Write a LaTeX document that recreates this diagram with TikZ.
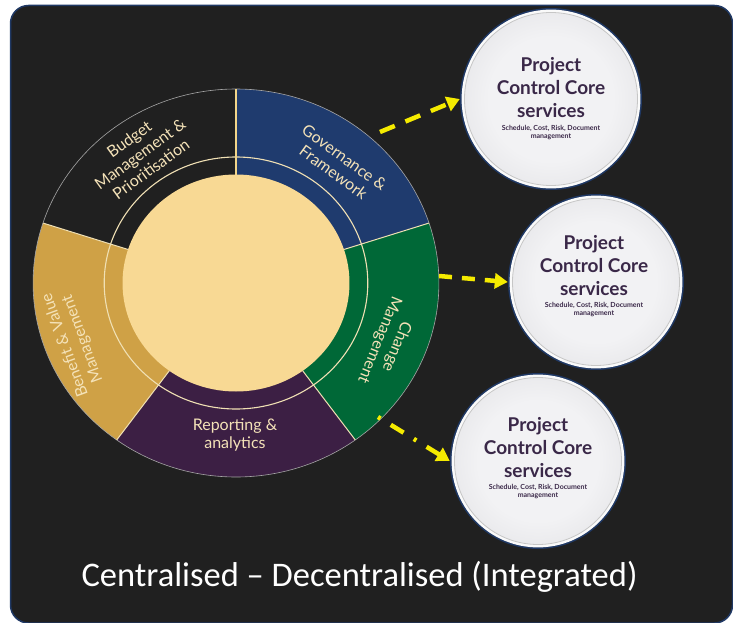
\documentclass[tikz,border=0pt]{standalone}
\usepackage{fontspec}
\setmainfont{Lato}
\newfontfamily\calib{Carlito}
\usetikzlibrary{arrows.meta,calc}
\definecolor{bgdark}{RGB}{32,32,32}
\definecolor{navyline}{RGB}{31,56,100}
\definecolor{segnavy}{RGB}{31,59,110}
\definecolor{seggreen}{RGB}{0,104,55}
\definecolor{segpurple}{RGB}{60,31,68}
\definecolor{seggold}{RGB}{207,161,70}
\definecolor{corefill}{RGB}{248,217,148}
\definecolor{creamtext}{RGB}{244,226,184}
\definecolor{sepline}{RGB}{240,224,180}
\definecolor{topsep}{RGB}{242,213,138}
\definecolor{arrowyellow}{RGB}{245,235,0}
\definecolor{disctext}{RGB}{58,40,72}
\definecolor{discin}{RGB}{242,242,244}
\definecolor{discout}{RGB}{212,212,216}
\pgfdeclareradialshading{discshade}{\pgfpoint{0bp}{0bp}}{color(0bp)=(discin); color(18bp)=(discin); color(46bp)=(discout); color(50bp)=(discout)}
\begin{document}
\begin{tikzpicture}[x=1pt,y=-1pt,
  seglabel/.style={text=creamtext, font=\fontsize{16}{18.5}\selectfont, align=center, inner sep=0pt},
  flow/.style={draw=arrowyellow, line width=4.5pt, -{Triangle[length=13pt,width=15pt]}},
  disc/.style={circle, minimum size=#1, inner sep=0pt, fill=navyline, path picture={
      \fill[white!96!gray] (path picture bounding box.center) circle[radius=0.5*#1-1.6pt];
      \shade[shading=discshade] (path picture bounding box.center) circle[radius=0.5*#1-4.5pt];
      \draw[gray!45, line width=0.8pt] (path picture bounding box.center) circle[radius=0.5*#1-4.5pt];
  }},
  bigtxt/.style={text=disctext, font=\bfseries\fontsize{19}{23}\selectfont, align=center, inner sep=0pt},
  smalltxt/.style={text=disctext, font=\bfseries\fontsize{7}{8.5}\selectfont, align=center, inner sep=0pt}
]
\useasboundingbox (0,0) rectangle (733,623);
\fill[white] (0,0) rectangle (733,623);
\draw[fill=bgdark, draw=navyline, line width=1.5pt, rounded corners=18pt] (10.5,5.5) rectangle (732.5,623);

% wheel
\begin{scope}[shift={(236,283)}, xscale=1.046, yscale=-1]
  \foreach \a/\b/\c in {90/18/segnavy, 18/-54/seggreen, -54/-126/segpurple, -126/-198/seggold, 162/90/bgdark}
    \fill[\c] (\a:194) arc[start angle=\a, end angle=\b, radius=194] -- (\b:108) arc[start angle=\b, end angle=\a, radius=108] -- cycle;
  \draw[gray!70, line width=0.6pt] (0,0) circle[radius=194];
  \draw[sepline, line width=1.1pt] (0,0) circle[radius=126];
  \foreach \a in {18,-54,-126,162}
    \draw[sepline, line width=1pt] (\a:108) -- (\a:194);
  \draw[topsep, line width=1.5pt] (90:108) -- (90:194);
  \fill[corefill] (0,0) circle[radius=108.5];
\end{scope}

\node[seglabel, rotate=36] (budget) at (140,154) {Budget\\Management \&\\Prioritisation};
\node[seglabel, rotate=-36] (gov) at (339,165) {Governance \&\\Framework};
\node[seglabel, rotate=-112] (change) at (388,343) {Change\\Management};
\node[seglabel, rotate=110] (benefit) at (74,342) {Benefit \& Value\\Management};
\node[seglabel] (report) at (235,435) {Reporting \&\\analytics};

% discs
\node[disc=182pt] (c1) at (551,99) {};
\node[disc=176pt] (c2) at (596,282) {};
\node[disc=176pt] (c3) at (538,461) {};

\node[bigtxt] (t1) at ($(c1.center)+(0,-11)$) {Project\\Control Core\\services};
\node[smalltxt, anchor=north] (s1) at ($(c1.center)+(0,26)$) {Schedule, Cost, Risk, Document\\management};
\node[bigtxt] (t2) at ($(c2.center)+(-2,-16)$) {Project\\Control Core\\services};
\node[smalltxt, anchor=north] (s2) at ($(c2.center)+(-2,20)$) {Schedule, Cost, Risk, Document\\management};
\node[bigtxt] (t3) at ($(c3.center)+(0,-13)$) {Project\\Control Core\\services};
\node[smalltxt, anchor=north] (s3) at ($(c3.center)+(0,23)$) {Schedule, Cost, Risk, Document\\management};

% arrows
\coordinate (a1) at (380,132);
\coordinate (a2) at (439,276);
\coordinate (a3) at (378,417);
\draw[flow, dash pattern=on 16pt off 11.5pt] (a1) -- (c1.west);
\draw[flow, dash pattern=on 13pt off 10pt] (a2) -- (c2.west);
\draw[flow, dash pattern=on 3pt off 12pt on 15pt off 12pt] (a3) -- (c3.west);

\node[text=white, font=\calib\fontsize{34.5}{40}\selectfont, anchor=base] (caption) at (359.5,586) {Centralised – Decentralised (Integrated)};
\end{tikzpicture}
\end{document}
